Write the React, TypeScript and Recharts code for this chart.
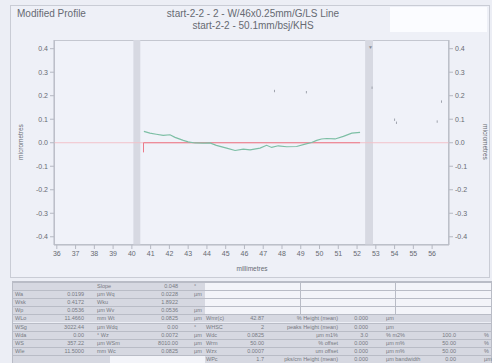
import React from "react";
import {
  ComposedChart,
  Line,
  XAxis,
  YAxis,
  ReferenceArea,
  Scatter,
} from "recharts";

const xTicks = [36, 37, 38, 39, 40, 41, 42, 43, 44, 45, 46, 47, 48, 49, 50, 51, 52, 53, 54, 55, 56];
const yTicks = [0.4, 0.3, 0.2, 0.1, 0.0, -0.1, -0.2, -0.3, -0.4];

const profileX = [40.64, 40.96, 41.3, 41.67, 42.03, 42.3, 42.74, 43.0, 43.36, 43.8, 44.16, 44.5, 45.05, 45.5, 45.94, 46.3, 46.83, 47.18, 47.45, 47.8, 48.25, 48.78, 49.23, 49.58, 49.85, 50.1, 50.38, 50.83, 51.27, 51.72, 52.16];
const profileY = [0.048, 0.041, 0.036, 0.031, 0.034, 0.023, 0.010, 0.004, -0.001, -0.002, -0.001, -0.011, -0.023, -0.033, -0.027, -0.030, -0.023, -0.011, -0.020, -0.013, -0.017, -0.016, -0.006, 0.001, 0.010, 0.016, 0.018, 0.016, 0.027, 0.041, 0.044];

const refX = [35.85, 56.9];
const refY = [0, 0];
const fitX = [40.62, 52.16];
const fitY = [0, 0];
const tickMarkX = [40.62, 40.62];
const tickMarkY = [0.0, -0.041];

const dotX = [52.8, 54.0, 54.1, 56.27, 56.5, 47.6, 49.3];
const dotY = [0.234, 0.098, 0.085, 0.09, 0.175, 0.22, 0.215];

const tableRows: string[][] = [
  ["", "", "Slope", "0.048", "°", "", "", "", "", "", ""],
  ["Wa", "0.0199", "µm Wq", "0.0228", "µm", "", "", "", "", "", ""],
  ["Wsk", "0.4172", "Wku", "1.8922", "", "", "", "", "", "", ""],
  ["Wp", "0.0536", "µm Wv", "0.0536", "µm", "", "", "", "", "", ""],
  ["WLo", "11.4660", "mm Wt", "0.0825", "µm", "Wmr(c)", "42.87", "% Height (mean)", "0.000", "µm", "", ""],
  ["WSg", "3022.44", "µm Wdq", "0.00", "°", "WHSC", "2", "peaks Height (mean)", "0.000", "µm", "", ""],
  ["Wda", "0.00", "° Wz", "0.0072", "µm", "Wdc", "0.0825", "µm m1%", "3.0", "% m2%", "100.0", "%"],
  ["WS", "357.22", "µm WSm", "8010.00", "µm", "Wrm", "50.00", "% offset", "0.000", "µm m%", "50.00", "%"],
  ["Wle", "11.5000", "mm Wc", "0.0825", "µm", "Wzx", "0.0007", "um offset", "0.000", "µm m%", "50.00", "%"],
  ["", "", "", "", "", "WPc", "1.7", "pks/cm Height (mean)", "0.000", "µm bandwidth", "0.00", "µm"],
];

const toPts = (xs: number[], ys: number[]) => xs.map((x, i) => ({ x, y: ys[i] }));

const profileData = toPts(profileX, profileY);
const refData = toPts(refX, refY);
const fitData = toPts(fitX, fitY);
const markData = toPts(tickMarkX, tickMarkY);
const dotData = toPts(dotX, dotY);

const FONT = "'Liberation Sans', Arial, sans-serif";
const TXT = "#666a72";

const cols: [number, number, "left" | "right"][] = [
  [15, 60, "left"],
  [60, 84, "right"],
  [97, 130, "left"],
  [140, 178, "right"],
  [194, 205, "left"],
  [206, 240, "left"],
  [240, 264, "right"],
  [270, 338, "right"],
  [340, 368, "right"],
  [386, 430, "left"],
  [430, 456, "right"],
  [484, 492, "left"],
];

const ROW_TOP = 282;
const ROW_H = 8.1;

function Table() {
  const cells: React.ReactNode[] = [];
  for (let r = 0; r < 10; r++) {
    const top = ROW_TOP + r * ROW_H;
    const segs: [number, number, string][] = [];
    if (r < 4) {
      segs.push([13, 205, "#d6d8e1"]);
      segs.push([205, 491, "#f3f4f9"]);
    } else if (r < 9) {
      segs.push([13, 491, "#d6d8e1"]);
    } else {
      segs.push([13, 110, "#d6d8e1"]);
      segs.push([110, 205, "#f3f4f9"]);
      segs.push([205, 491, "#d6d8e1"]);
    }
    segs.forEach(([l, rr, c], i) =>
      cells.push(
        <div
          key={`bg${r}-${i}`}
          style={{
            position: "absolute",
            left: l,
            top,
            width: rr - l,
            height: ROW_H,
            background: c,
            borderTop: "1px solid #b9bcc6",
            boxSizing: "border-box",
          }}
        />
      )
    );
    tableRows[r].forEach((t, c) => {
      if (!t || !cols[c]) return;
      const [l, rr, al] = cols[c];
      cells.push(
        <div
          key={`t${r}-${c}`}
          style={{
            position: "absolute",
            left: l,
            top: top + 1,
            width: rr - l,
            height: ROW_H - 1,
            fontSize: 5.5,
            lineHeight: `${ROW_H - 1}px`,
            textAlign: al,
            color: "#767a82",
            whiteSpace: "nowrap",
            fontFamily: FONT,
          }}
        >
          {t}
        </div>
      );
    });
  }
  [300, 395].forEach((x, i) =>
    cells.push(
      <div
        key={`v${i}`}
        style={{
          position: "absolute",
          left: x,
          top: ROW_TOP,
          width: 1,
          height: ROW_H * 4,
          background: "#b9bcc6",
        }}
      />
    )
  );
  return (
    <>
      <div
        style={{
          position: "absolute",
          left: 12,
          top: ROW_TOP - 1,
          width: 480,
          height: 363 - ROW_TOP + 1,
          border: "1px solid #b9bcc6",
          boxSizing: "border-box",
        }}
      />
      {cells}
    </>
  );
}

export default function App() {
  const tickStyle = { fontSize: 7, fill: TXT, fontFamily: FONT };
  return (
    <div
      style={{
        position: "absolute",
        left: 0,
        top: 0,
        width: 492,
        height: 363,
        background: "#eceef5",
        overflow: "hidden",
        fontFamily: FONT,
      }}
    >
      <div
        style={{
          position: "absolute",
          left: 10,
          top: 5,
          width: 480,
          height: 273,
          border: "1px solid #c9ccd5",
          background: "#eef0f7",
          boxSizing: "border-box",
        }}
      />
      <div
        style={{
          position: "absolute",
          left: 54,
          top: 40,
          width: 395,
          height: 205,
          background: "#f0f2f9",
          border: "1px solid #c4c7d0",
          boxSizing: "border-box",
        }}
      />
      <div style={{ position: "absolute", left: 17, top: 8, fontSize: 10, color: TXT }}>
        Modified Profile
      </div>
      <div
        style={{
          position: "absolute",
          left: 140,
          top: 8,
          width: 226,
          textAlign: "center",
          fontSize: 10,
          lineHeight: "12px",
          color: TXT,
        }}
      >
        start-2-2 - 2 - W/46x0.25mm/G/LS Line
        <br />
        start-2-2 - 50.1mm/bsj/KHS
      </div>
      <div
        style={{
          position: "absolute",
          left: 390,
          top: 7,
          width: 97,
          height: 25,
          background: "#fbfcff",
        }}
      />
      <div
        style={{
          position: "absolute",
          left: 20,
          top: 142,
          fontSize: 6.5,
          color: TXT,
          transform: "translate(-50%, -50%) rotate(-90deg)",
          whiteSpace: "nowrap",
        }}
      >
        micrometres
      </div>
      <div
        style={{
          position: "absolute",
          left: 485,
          top: 142,
          fontSize: 6.5,
          color: TXT,
          transform: "translate(-50%, -50%) rotate(90deg)",
          whiteSpace: "nowrap",
        }}
      >
        micrometres
      </div>
      <div
        style={{
          position: "absolute",
          left: 252,
          top: 268,
          fontSize: 6.5,
          color: TXT,
          transform: "translate(-50%, -50%)",
          whiteSpace: "nowrap",
        }}
      >
        millimetres
      </div>
      <div style={{ position: "absolute", left: 0, top: 0 }}>
        <ComposedChart
          width={492}
          height={280}
          margin={{ top: 40, right: 0, bottom: 15, left: 0 }}
        >
          <XAxis
            type="number"
            dataKey="x"
            domain={[35.85, 56.9]}
            ticks={xTicks}
            allowDataOverflow
            interval={0}
            tick={tickStyle}
            tickSize={4}
            height={20}
            stroke="#b5b8c2"
          />
          <YAxis
            yAxisId="l"
            type="number"
            dataKey="y"
            domain={[-0.435, 0.437]}
            ticks={yTicks}
            allowDataOverflow
            interval={0}
            tickFormatter={(v: number) => v.toFixed(1)}
            tick={tickStyle}
            tickSize={4}
            width={54}
            stroke="#b5b8c2"
          />
          <YAxis
            yAxisId="r"
            orientation="right"
            type="number"
            dataKey="y"
            domain={[-0.435, 0.437]}
            ticks={yTicks}
            allowDataOverflow
            interval={0}
            tickFormatter={(v: number) => v.toFixed(1)}
            tick={tickStyle}
            tickSize={4}
            width={43}
            stroke="#b5b8c2"
          />
          <ReferenceArea yAxisId="l" x1={40.08} x2={40.45} y1={-0.435} y2={0.437} fill="#d7d9e2" fillOpacity={1} stroke="none" />
          <ReferenceArea yAxisId="l" x1={52.43} x2={52.85} y1={-0.435} y2={0.437} fill="#d7d9e2" fillOpacity={1} stroke="none" />
          <Line yAxisId="l" data={refData} dataKey="y" stroke="#f2c2ca" strokeWidth={1} dot={false} isAnimationActive={false} />
          <Line yAxisId="l" data={fitData} dataKey="y" stroke="#ec7a88" strokeWidth={1} dot={false} isAnimationActive={false} />
          <Line yAxisId="l" data={markData} dataKey="y" stroke="#ec7a88" strokeWidth={1} dot={false} isAnimationActive={false} />
          <Line yAxisId="l" data={profileData} dataKey="y" type="linear" stroke="#7dbfa5" strokeWidth={1.2} dot={false} isAnimationActive={false} />
          <Scatter yAxisId="l" data={dotData} dataKey="y" fill="#a0a4ae" shape={(p: any) => <rect x={p.cx - 0.5} y={p.cy - 1.2} width={1} height={2.4} fill="#a0a4ae" />} isAnimationActive={false} />
        </ComposedChart>
      </div>
      <div style={{ position: "absolute", left: 368, top: 44, fontSize: 5, color: "#8a8e98" }}>▼</div>
      <Table />
    </div>
  );
}
